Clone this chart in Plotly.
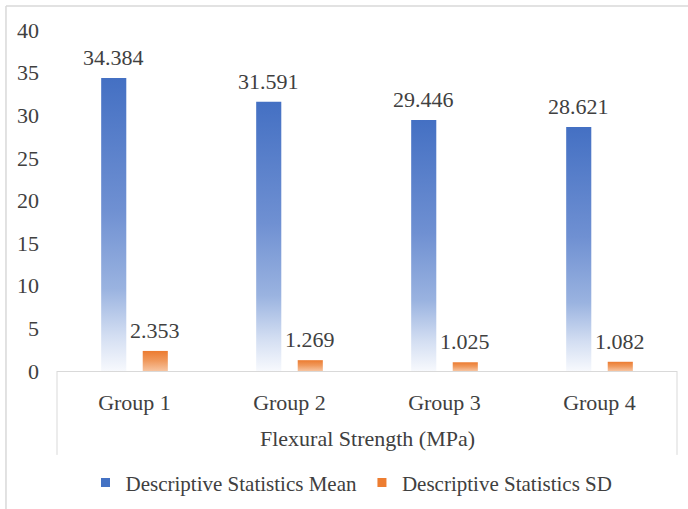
import plotly.graph_objects as go

groups = ["Group 1", "Group 2", "Group 3", "Group 4"]
mean_vals = [34.384, 31.591, 29.446, 28.621]
sd_vals = [2.353, 1.269, 1.025, 1.082]
series_names = ["Descriptive Statistics Mean", "Descriptive Statistics SD"]
y_ticks = [0, 5, 10, 15, 20, 25, 30, 35, 40]
axis_title = "Flexural Strength (MPa)"

FONT = "Liberation Serif, Times New Roman, serif"
TEXT_COLOR = "#404040"
BLUE = "#4472C4"
ORANGE = "#ED7D31"

blue_scale = [[0.0, "#f7f9fd"], [0.12, "#d3def2"], [0.28, "#9ab3e0"],
              [0.55, "#6f90d2"], [1.0, "#4470c3"]]
orange_scale = [[0.0, "#f7c4a0"], [0.5, "#f09a5e"], [1.0, "#ec7b30"]]

offset = 0.134
half_w = 0.081

fig = go.Figure()


def add_bar(xc, val, scale):
    xs = [xc - half_w, xc + half_w, xc + half_w, xc - half_w, xc - half_w]
    ys = [0, 0, val, val, 0]
    fig.add_trace(go.Scatter(
        x=xs, y=ys, mode="lines", fill="toself",
        line=dict(width=0, color="rgba(0,0,0,0)"),
        fillgradient=dict(type="vertical", colorscale=scale),
        showlegend=False, hoverinfo="skip",
    ))


positions = list(range(1, len(groups) + 1))
annotations = []
for p, m, s in zip(positions, mean_vals, sd_vals):
    add_bar(p - offset, m, blue_scale)
    add_bar(p + offset, s, orange_scale)
    # value labels above each bar
    for xc, v in ((p - offset, m), (p + offset, s)):
        annotations.append(dict(
            x=xc, y=v, xref="x", yref="y", text=f"{v:.3f}", showarrow=False,
            xanchor="center", yanchor="bottom", yshift=6,
            font=dict(family=FONT, size=22, color=TEXT_COLOR)))

annotations.append(dict(text=axis_title, xref="paper", yref="paper", x=0.5, y=-0.194,
                        xanchor="center", yanchor="middle", yshift=-1, showarrow=False,
                        font=dict(family=FONT, size=22, color=TEXT_COLOR)))

# legend entries
fig.add_trace(go.Scatter(x=[None], y=[None], mode="markers", name=series_names[0],
                         marker=dict(symbol="square", size=9, color=BLUE)))
fig.add_trace(go.Scatter(x=[None], y=[None], mode="markers", name=series_names[1],
                         marker=dict(symbol="square", size=9, color=ORANGE)))

fig.update_layout(
    width=688, height=509,
    margin=dict(l=57, r=11, t=30, b=138, autoexpand=False),
    paper_bgcolor="white", plot_bgcolor="white",
    font=dict(family=FONT, size=22, color=TEXT_COLOR),
    showlegend=True,
    legend=dict(orientation="h", x=0.475, xanchor="center", y=-0.328, yanchor="middle",
                font=dict(family=FONT, size=21, color=TEXT_COLOR),
                itemwidth=30, tracegroupgap=0),
    xaxis=dict(range=[0.5, 4.5], tickvals=positions, ticktext=groups,
               showgrid=False, zeroline=False, showline=True, linecolor="#d9d9d9",
               linewidth=1, ticks="", ticklabelstandoff=12,
               tickfont=dict(family=FONT, size=22, color=TEXT_COLOR)),
    yaxis=dict(range=[0, 40], tickvals=y_ticks, showgrid=False, zeroline=False,
               showline=False, ticks="", ticklabelstandoff=17,
               tickfont=dict(family=FONT, size=22, color=TEXT_COLOR)),
    annotations=annotations,
    shapes=[
        # category box sides
        dict(type="line", xref="paper", yref="paper", x0=0, x1=0, y0=0, y1=-0.246,
             line=dict(color="#d9d9d9", width=1)),
        dict(type="line", xref="paper", yref="paper", x0=1, x1=1, y0=0, y1=-0.246,
             line=dict(color="#d9d9d9", width=1)),
        # chart frame
        dict(type="line", xref="paper", yref="paper", x0=-0.0823, x1=1.03, y0=1.0704, y1=1.0704,
             line=dict(color="#d9d9d9", width=1.5)),
        dict(type="line", xref="paper", yref="paper", x0=-0.0823, x1=-0.0823, y0=1.0704, y1=-0.42,
             line=dict(color="#d9d9d9", width=1.5)),
    ],
)

fig.write_html("out.html")
